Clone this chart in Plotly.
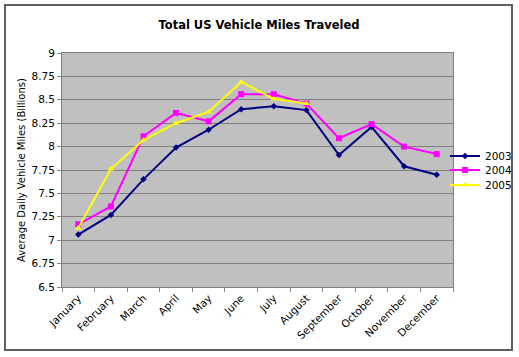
import plotly.graph_objects as go

months = ["January", "February", "March", "April", "May", "June", "July",
          "August", "September", "October", "November", "December"]
y2003 = [7.06, 7.27, 7.65, 7.99, 8.18, 8.40, 8.43, 8.39, 7.91, 8.21, 7.79, 7.70]
y2004 = [7.17, 7.36, 8.11, 8.36, 8.27, 8.56, 8.56, 8.46, 8.09, 8.24, 8.00, 7.92]
y2005 = [7.13, 7.76, 8.07, 8.25, 8.37, 8.69, 8.51, 8.46]
y_ticks = [6.5, 6.75, 7, 7.25, 7.5, 7.75, 8, 8.25, 8.5, 8.75, 9]

FONT = "DejaVu Sans"
W, H = 519, 357
L, R, T, B = 62, 66, 53, 70
pw, ph = W - L - R, H - T - B


def px_x(p):
    return (p - L) / pw


def px_y(p):
    return (H - B - p) / ph


fig = go.Figure()
fig.add_trace(go.Scatter(x=months, y=y2003, name="2003", mode="lines+markers",
                         line=dict(color="#000080", width=2),
                         marker=dict(symbol="diamond", size=5, color="#000080"),
                         legend="legend"))
fig.add_trace(go.Scatter(x=months, y=y2004, name="2004", mode="lines+markers",
                         line=dict(color="#FF00FF", width=2),
                         marker=dict(symbol="square", size=6, color="#FF00FF"),
                         legend="legend2"))
fig.add_trace(go.Scatter(x=months[:len(y2005)], y=y2005, name="2005", mode="lines+markers",
                         line=dict(color="#FFFF00", width=2),
                         marker=dict(symbol="triangle-up", size=6, color="#FFFF00"),
                         legend="legend3"))


def leg(ypix):
    return dict(x=px_x(445), xanchor="left", y=px_y(ypix), yanchor="middle",
                font=dict(family=FONT, size=10.5), bgcolor="rgba(0,0,0,0)",
                itemwidth=30, borderwidth=0)


fig.update_layout(
    width=W, height=H,
    margin=dict(l=L, r=R, t=T, b=B, pad=0, autoexpand=False),
    paper_bgcolor="white",
    plot_bgcolor="#C0C0C0",
    font=dict(family=FONT, size=11, color="black"),
    title=dict(text="<b>Total US Vehicle Miles Traveled</b>", x=259 / W, xref="container",
               xanchor="center", y=1 - 25 / H, yref="container", yanchor="middle",
               font=dict(family=FONT, size=11.5, color="black")),
    showlegend=True,
    legend=leg(156),
    legend2=leg(170),
    legend3=leg(185),
    xaxis=dict(type="category", categoryorder="array", categoryarray=months,
               range=[-0.5, 11.5], tickson="boundaries", ticks="outside",
               ticklen=4, tickcolor="#808080", tickangle=-45,
               tickfont=dict(family=FONT, size=10.5), showgrid=False,
               showline=True, linecolor="#808080", linewidth=1, mirror=True,
               zeroline=False, fixedrange=True, automargin=False),
    yaxis=dict(range=[6.5, 9], tickvals=y_ticks,
               ticktext=[("%g" % v) for v in y_ticks],
               ticks="outside", ticklen=4, tickcolor="#808080",
               showgrid=True, gridcolor="#808080", gridwidth=1,
               showline=True, linecolor="#808080", linewidth=1, mirror=True,
               zeroline=False, tickfont=dict(family=FONT, size=10.5),
               automargin=False, fixedrange=True,
               title=dict(text="Average Daily Vehicle Miles (Billions)",
                          font=dict(family=FONT, size=10), standoff=4)),
    shapes=[dict(type="rect", xref="paper", yref="paper",
                 x0=px_x(5), x1=px_x(512), y0=px_y(350), y1=px_y(5),
                 line=dict(color="#606060", width=2), fillcolor="rgba(0,0,0,0)",
                 layer="below")],
)

fig.write_html("out.html", config={"displayModeBar": False},
               post_script="document.body.style.margin='0';document.body.style.padding='0';")
